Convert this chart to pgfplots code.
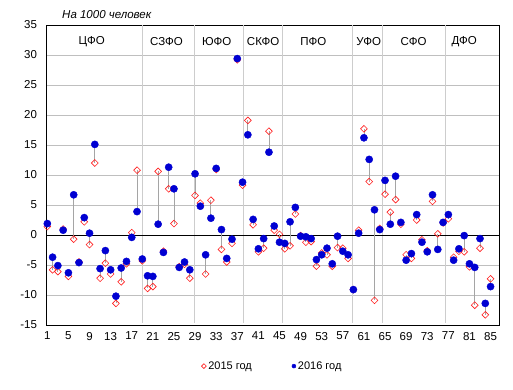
\documentclass[border=0pt]{standalone}
\usepackage{pgfplots}
\pgfplotsset{compat=1.18}
\usepackage{pgfplotstable}
\usepackage{fontspec}
\setmainfont{Liberation Sans}

\definecolor{red15}{RGB}{255,30,30}
\definecolor{blue16}{RGB}{0,0,210}
\definecolor{gridgray}{RGB}{191,191,191}
\definecolor{sepgray}{RGB}{205,205,205}
\definecolor{linkgray}{RGB}{165,165,165}

\pgfplotstableread{
i a b
1 1.4 1.9
2 -5.8 -3.7
3 -6.1 -5.1
4 1.0 0.8
5 -6.9 -6.3
6 -0.7 6.7
7 -4.5 -4.6
8 2.2 2.9
9 -1.6 0.3
10 12.0 15.1
11 -7.2 -5.6
12 -4.7 -2.6
13 -6.5 -5.8
14 -11.4 -10.2
15 -7.8 -5.5
16 -4.8 -4.4
17 0.4 -0.4
18 10.8 3.9
19 -4.3 -4.0
20 -8.9 -6.8
21 -8.6 -6.9
22 10.6 1.8
23 -2.7 -2.9
24 7.7 11.3
25 1.9 7.7
26 -5.3 -5.4
27 -4.9 -4.5
28 -7.2 -5.8
29 6.6 10.2
30 5.3 4.8
31 -6.5 -3.3
32 5.8 2.8
33 10.9 11.1
34 -2.4 0.9
35 -4.5 -3.9
36 -1.4 -0.7
37 29.2 29.4
38 8.3 8.8
39 19.1 16.7
40 1.7 2.6
41 -2.8 -2.3
42 -2.2 -0.6
43 17.3 13.8
44 0.8 1.5
45 0.1 -1.2
46 -2.3 -1.4
47 -1.8 2.2
48 3.5 4.6
49 -0.1 -0.2
50 -1.2 -0.3
51 -1.1 -0.6
52 -5.2 -4.1
53 -3.0 -3.3
54 -3.3 -2.2
55 -5.2 -4.8
56 -2.1 -0.2
57 -2.2 -2.7
58 -3.9 -3.3
59 -9.1 -9.1
60 0.8 0.3
61 17.7 16.2
62 8.9 12.6
63 -10.9 4.2
64 1.1 0.9
65 6.8 9.1
66 3.8 1.8
67 5.9 9.8
68 1.8 2.1
69 -3.3 -4.2
70 -3.9 -3.1
71 2.5 3.4
72 -0.8 -1.2
73 -2.6 -2.8
74 5.6 6.7
75 0.2 -2.4
76 2.0 2.1
77 2.7 3.4
78 -3.7 -4.2
79 -2.7 -2.3
80 -2.8 -0.1
81 -5.3 -4.8
82 -11.7 -5.4
83 -2.2 -0.6
84 -13.3 -11.4
85 -7.3 -8.6
}\data

\begin{document}
\fontsize{11.5}{13}\selectfont
\begin{tikzpicture}[x=1pt,y=1pt]
\begin{axis}[
  scale only axis, width=453pt, height=300pt,
  xmin=0.75, xmax=86.6, ymin=-15, ymax=35,
  xtick={1,5,...,85}, ytick={-15,-10,...,35},
  major tick length=0pt,
  ymajorgrids, grid style={gridgray, line width=0.8pt},
  axis line style={black, line width=0.9pt},
  font=\fontsize{11.5}{13}\selectfont,
  tick label style={font=\fontsize{11.5}{13}\selectfont},
  /pgf/number format/assume math mode=true,
  yticklabel style={xshift=-5pt},
  xticklabel style={yshift=-3pt},
  legend style={at={(0.5,-0.137)}, anchor=center, draw=none, fill=none,
    legend columns=2, font=\fontsize{11}{13}\selectfont,
    /tikz/every even column/.append style={column sep=38pt}},
  legend image code/.code={\draw[#1] plot coordinates {(0pt,0pt)};},
  clip=false,
]
% district separators
\addplot[sepgray, line width=1pt, forget plot] coordinates {(19,-14.6) (19,35)};
\addplot[sepgray, line width=1pt, forget plot] coordinates {(28.8,-14.6) (28.8,35)};
\addplot[sepgray, line width=1pt, forget plot] coordinates {(38.1,-14.6) (38.1,35)};
\addplot[sepgray, line width=1pt, forget plot] coordinates {(45.5,-14.6) (45.5,35)};
\addplot[sepgray, line width=1pt, forget plot] coordinates {(58.9,-14.6) (58.9,35)};
\addplot[sepgray, line width=1pt, forget plot] coordinates {(64.5,-14.6) (64.5,35)};
\addplot[sepgray, line width=1pt, forget plot] coordinates {(76.4,-14.6) (76.4,35)};
% zero line
\addplot[black, line width=0.9pt, forget plot] coordinates {(0.75,0) (86.6,0)};
% links between years
\addplot[linkgray, line width=0.8pt, forget plot,
  quiver={u=0, v=\thisrow{b}-\thisrow{a}}]
  table[x=i, y=a] {\data};
% 2015
\addplot[only marks, mark=square, mark size=2.4pt, forget plot,
  mark options={rotate=45, draw=red15, fill=white, line width=0.6pt}]
  table[x=i, y=a] {\data};
% 2016
\addplot[only marks, mark=*, mark size=3.6pt, forget plot,
  mark options={draw=blue16, fill=blue16}]
  table[x=i, y=b] {\data};

\addlegendimage{only marks, mark=square, mark size=1.7pt, mark options={rotate=45, draw=red15, fill=white, line width=0.6pt}}
\addlegendentry{2015 год}
\addlegendimage{only marks, mark=*, mark size=2pt, mark options={draw=blue16, fill=blue16}}
\addlegendentry{2016 год}

\node at (axis cs:9.4,32.2) {ЦФО};
\node at (axis cs:23.6,32.2) {СЗФО};
\node at (axis cs:33.1,32.2) {ЮФО};
\node at (axis cs:41.9,32.2) {СКФО};
\node at (axis cs:51.4,32.2) {ПФО};
\node at (axis cs:61.9,32.2) {УФО};
\node at (axis cs:70.4,32.2) {СФО};
\node at (axis cs:80.0,32.2) {ДФО};
\coordinate (SW) at (rel axis cs:0,0);
\end{axis}
\node[anchor=west, inner sep=0pt, font=\fontsize{11.5}{13}\selectfont\itshape] at ([shift={(16,310)}]SW) {На 1000 человек};
\pgfresetboundingbox
\path[use as bounding box] ([shift={(-46,-65)}]SW) rectangle ([shift={(467,325)}]SW);
\end{tikzpicture}
\end{document}
